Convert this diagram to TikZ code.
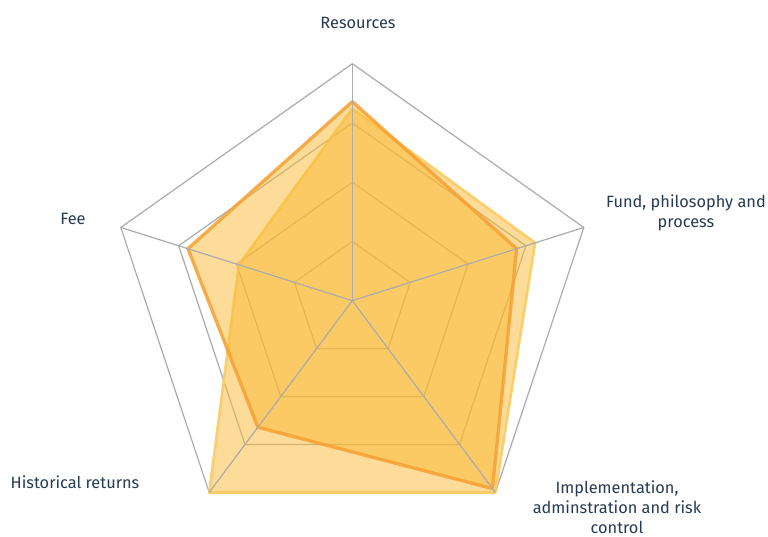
\documentclass[tikz,border=0pt]{standalone}
\usepackage{fontspec}
\setmainfont{Fira Sans}
\definecolor{gridgray}{RGB}{172,172,172}
\definecolor{seriesfill}{RGB}{250,185,50}
\definecolor{seriesdark}{RGB}{246,160,50}
\definecolor{serieslight}{RGB}{252,204,100}
\definecolor{labeltext}{RGB}{38,58,84}
\tikzset{
  gridline/.style={draw=gridgray, line width=0.7pt},
  axislabel/.style={text=labeltext, align=center, inner sep=0pt,
    font=\fontsize{9.3}{11.5}\selectfont},
}
\def\R{237}
\begin{document}
\begin{tikzpicture}[x=0.02cm,y=0.02cm]
  \useasboundingbox (0,0) rectangle (768,537);
  \begin{scope}[shift={(352.3,236.3)}, xscale=1.027]
    % ringe
    \foreach \r in {0.25,0.5,0.75,1}
      \draw[gridline] (90:\r*\R) -- (18:\r*\R) -- (-54:\r*\R)
        -- (-126:\r*\R) -- (162:\r*\R) -- cycle;
    % serie 2 (hell)
    \filldraw[fill=seriesfill, fill opacity=0.5, draw=serieslight,
      draw opacity=0.9, line width=1.5pt, line join=round]
      (90:0.81*\R) -- (18:0.79*\R) -- (-54:1.0*\R)
      -- (-126:1.0*\R) -- (162:0.49*\R) -- cycle;
    % serie 1 (dunkel)
    \filldraw[fill=seriesfill, fill opacity=0.5, draw=seriesdark,
      draw opacity=0.85, line width=1.9pt, line join=round]
      (90:0.84*\R) -- (18:0.71*\R) -- (-54:0.98*\R)
      -- (-126:0.66*\R) -- (162:0.71*\R) -- cycle;
    % achsen
    \coordinate (O) at (0,0);
    \foreach \a/\n in {90/res,18/fund,-54/impl,-126/hist,162/fee} {
      \coordinate (\n) at (\a:\R);
      \draw[gridline] (O) -- (\n);
    }
  \end{scope}
  % beschriftungen
  \node[axislabel] (lres)  at (358,514) {Resources};
  \node[axislabel] (lfund) at (686,324) {Fund, philosophy and\\process};
  \node[axislabel] (limpl) at (617,30)  {Implementation,\\adminstration and risk\\control};
  \node[axislabel] (lhist) at (75,55)   {Historical returns};
  \node[axislabel] (lfee)  at (73,318)  {Fee};
\end{tikzpicture}
\end{document}
